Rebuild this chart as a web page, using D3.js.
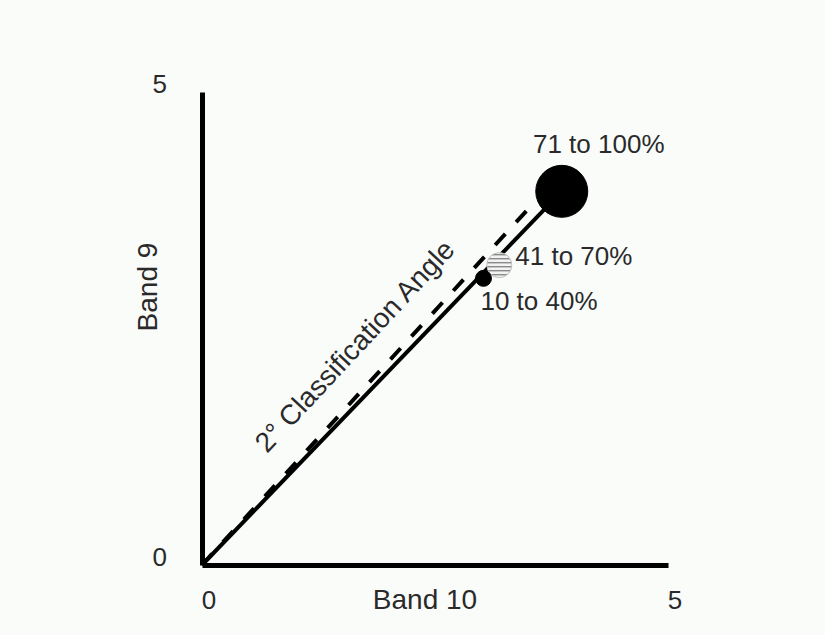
<!DOCTYPE html>
<meta charset="utf-8">
<script src="https://d3js.org/d3.v7.min.js"></script>
<style>
  body { margin: 0; background: #fafcfa; }
  text { font-family: "Liberation Sans", Arial, sans-serif; fill: #2a2a2a; }
</style>
<div id="my_dataviz"></div>
<script>
// data
var axisTicks = [0, 5];
var classes = ["10 to 40%", "41 to 70%", "71 to 100%"];
var band10 = [3.02, 3.19, 3.86];
var band9 = [3.03, 3.17, 3.95];
// 2 degree classification angle line (dashed)
var angleB10 = [0, 3.59];
var angleB9 = [0, 3.86];

var width = 825, height = 635;

var svg = d3.select("#my_dataviz")
  .append("svg")
    .attr("width", width)
    .attr("height", height);

var x = d3.scaleLinear().domain([0, 5]).range([202, 668]);
var y = d3.scaleLinear().domain([0, 5]).range([565, 92]);

// hatch pattern for the middle class
var defs = svg.append("defs");
var pat = defs.append("pattern")
  .attr("id", "hatch")
  .attr("patternUnits", "userSpaceOnUse")
  .attr("width", 4).attr("height", 4);
pat.append("rect").attr("width", 4).attr("height", 4).attr("fill", "#f2f2f2");
pat.append("rect").attr("y", 2).attr("width", 4).attr("height", 1.4).attr("fill", "#8a8a8a");

// axes
var xAxis = svg.append("g")
  .attr("transform", "translate(0," + y(0) + ")")
  .call(d3.axisBottom(x).tickValues(axisTicks).tickFormat(d3.format("d"))
    .tickSize(0).tickSizeOuter(0).tickPadding(26));
var yAxis = svg.append("g")
  .attr("transform", "translate(" + x(0) + ",0)")
  .call(d3.axisLeft(y).tickValues(axisTicks).tickFormat(d3.format("d"))
    .tickSize(0).tickSizeOuter(0).tickPadding(35));

[xAxis, yAxis].forEach(function(a) {
  a.select(".domain").attr("stroke", "#000").attr("stroke-width", 5);
  a.selectAll("text").style("font-size", "26px").attr("fill", "#2a2a2a");
});
xAxis.selectAll(".tick text").attr("dx", "0.25em");
yAxis.selectAll(".tick text").attr("dy", "0");

// axis titles
svg.append("text")
  .attr("x", 425).attr("y", 609)
  .attr("text-anchor", "middle")
  .style("font-size", "28px")
  .text("Band 10");
svg.append("text")
  .attr("transform", "translate(157,287) rotate(-90)")
  .attr("text-anchor", "middle")
  .style("font-size", "28px")
  .text("Band 9");

// dashed classification angle line
var line = d3.line()
  .x(function(d) { return x(d[0]); })
  .y(function(d) { return y(d[1]); });

svg.append("path")
  .datum(d3.zip(angleB10, angleB9))
  .attr("d", line)
  .attr("fill", "none")
  .attr("stroke", "#000")
  .attr("stroke-width", 4)
  .attr("stroke-dasharray", "15,16");

// solid line to the 71-100% point
svg.append("path")
  .datum([[0, 0], [band10[2], band9[2]]])
  .attr("d", line)
  .attr("fill", "none")
  .attr("stroke", "#000")
  .attr("stroke-width", 4);

// angle label
var ang = Math.atan2(y(angleB9[1]) - y(0), x(angleB10[1]) - x(0)) * 180 / Math.PI + 0.5;
svg.append("text")
  .attr("transform", "translate(267,454) rotate(" + ang + ")")
  .style("font-size", "28px")
  .text("2\u00b0 Classification Angle");

// points
var pts = classes.map(function(c, i) { return {name: c, b10: band10[i], b9: band9[i]}; });
var radius = d3.scaleOrdinal().domain(classes).range([8, 12.5, 26]);
var fill = d3.scaleOrdinal().domain(classes).range(["#000", "url(#hatch)", "#000"]);
var stroke = d3.scaleOrdinal().domain(classes).range(["#000", "#bdbdbd", "#000"]);

svg.append("g")
  .selectAll("circle")
  .data([pts[2], pts[1], pts[0]])
  .enter()
  .append("circle")
    .attr("cx", function(d) { return x(d.b10); })
    .attr("cy", function(d) { return y(d.b9); })
    .attr("r", function(d) { return radius(d.name); })
    .attr("fill", function(d) { return fill(d.name); })
    .attr("stroke", function(d) { return stroke(d.name); })
    .attr("stroke-width", 1);

// point labels
var lblDx = d3.scaleOrdinal().domain(classes).range([-3, 16, 37]);
var lblDy = d3.scaleOrdinal().domain(classes).range([32, 0, -38]);
var lblAnchor = d3.scaleOrdinal().domain(classes).range(["start", "start", "middle"]);

svg.append("g")
  .selectAll("text")
  .data(pts)
  .enter()
  .append("text")
    .attr("x", function(d) { return x(d.b10) + lblDx(d.name); })
    .attr("y", function(d) { return y(d.b9) + lblDy(d.name); })
    .attr("text-anchor", function(d) { return lblAnchor(d.name); })
    .style("font-size", "26px")
    .text(function(d) { return d.name; });
</script>
